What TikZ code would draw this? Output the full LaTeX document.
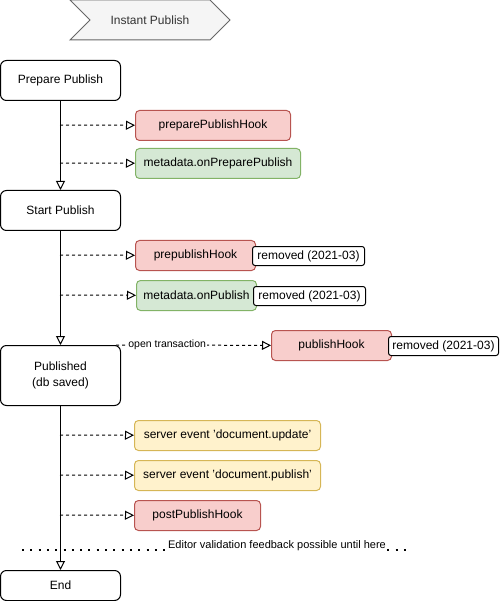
\documentclass[tikz,border=0pt]{standalone}
\usepackage{fontspec}
\setmainfont{Liberation Sans}
\usetikzlibrary{arrows.meta}
\usetikzlibrary{positioning}

\definecolor{hookfill}{HTML}{F8CECC}
\definecolor{hookline}{HTML}{B85450}
\definecolor{metafill}{HTML}{D5E8D4}
\definecolor{metaline}{HTML}{82B366}
\definecolor{eventfill}{HTML}{FFF2CC}
\definecolor{eventline}{HTML}{D6B656}
\definecolor{headfill}{HTML}{F5F5F5}
\definecolor{headline}{HTML}{666666}
\definecolor{headtext}{HTML}{333333}

\begin{document}
\begin{tikzpicture}[x=1pt, y=-1pt, font=\fontsize{12}{16}\selectfont,
  stage/.style={draw=black, line width=1pt, rounded corners=6pt, fill=white,
    minimum width=120pt, minimum height=40pt, inner sep=0pt, align=center,
    anchor=north west},
  hookbox/.style={draw=hookline, fill=hookfill, line width=1pt, rounded corners=4pt,
    minimum height=30pt, inner sep=0pt, anchor=north west},
  metabox/.style={hookbox, draw=metaline, fill=metafill},
  eventbox/.style={hookbox, draw=eventline, fill=eventfill},
  note/.style={draw=black, fill=white, line width=1pt, rounded corners=2.5pt,
    minimum height=19pt, minimum width=112pt, inner sep=0pt, anchor=north west},
  flow/.style={line width=1pt, -{Triangle[open, length=9pt, width=9pt, fill=white]}},
  call/.style={flow, dashed},
  small/.style={font=\fontsize{10.5}{12}\selectfont, fill=white, inner sep=1pt}]

  % Fix the page to the size of the drawing
  \useasboundingbox (0,0) rectangle (500,601);

  % Header step shape
  \draw[draw=headline, fill=headfill, line width=1pt]
    (70,0) -- (210,0) -- (230,20) -- (210,40) -- (70,40) -- (90,20) -- cycle;
  \node[text=headtext] (title) at (150,20) {Instant Publish};

  % Stages of the publish flow
  \node[stage] (prepare) at (0,60) {Prepare Publish};
  \node[stage] (start) at (0,190) {Start Publish};
  \node[stage, minimum height=60pt] (published) at (0,345) {Published\\(db saved)};
  \node[stage, minimum height=30pt] (end) at (0,570) {End};

  % Editor feedback limit (dotted)
  \coordinate (limitL) at (22,550);
  \coordinate (limitR) at (408,550);
  \draw[line width=2pt, dash pattern=on 2pt off 6.3pt] (limitL) -- (limitR);
  \node[small, font=\fontsize{11}{13}\selectfont] (limit) at (277,546)
    {Editor validation feedback possible until here};

  % Main flow
  \draw[flow] (prepare) -- (start);
  \draw[flow] (start) -- (published);
  \draw[flow] (published) -- (end);

  % Hooks while preparing
  \node[hookbox, minimum width=155pt] (prepHook) at (135,110) {preparePublishHook};
  \node[metabox, minimum width=165pt] (prepMeta) at (135,148) {metadata.onPreparePublish};
  \coordinate (p1) at (60,125);
  \coordinate (p2) at (60,163);
  \draw[call] (p1) -- (prepHook);
  \draw[call] (p2) -- (prepMeta);

  % Hooks while starting
  \node[hookbox, minimum width=120pt] (prepubHook) at (135,240) {prepublishHook};
  \node[note] (prepubNote) at (252,246) {removed (2021-03)};
  \node[metabox, minimum width=120pt] (pubMeta) at (136,280) {metadata.onPublish};
  \node[note] (pubMetaNote) at (253,286) {removed (2021-03)};
  \coordinate (s1) at (60,255);
  \coordinate (s2) at (60,295);
  \draw[call] (s1) -- (prepubHook);
  \draw[call] (s2) -- (pubMeta);

  % Transaction hook
  \node[hookbox, minimum width=120pt] (pubHook) at (271,330) {publishHook};
  \node[note, minimum width=110pt] (pubHookNote) at (388,336) {removed (2021-03)};
  \coordinate (tx) at (116,345);
  \draw[call] (tx) -- (pubHook)
    node[small, pos=0.33] (txLabel) {open transaction};

  % After saving
  \node[eventbox, minimum width=186pt] (evUpdate) at (134,420) {server event 'document.update'};
  \node[eventbox, minimum width=186pt] (evPublish) at (134,460) {server event 'document.publish'};
  \node[hookbox, minimum width=126pt] (postHook) at (134,500) {postPublishHook};
  \coordinate (d1) at (60,435);
  \coordinate (d2) at (60,475);
  \coordinate (d3) at (60,515);
  \draw[call] (d1) -- (evUpdate);
  \draw[call] (d2) -- (evPublish);
  \draw[call] (d3) -- (postHook);

\end{tikzpicture}
\end{document}
